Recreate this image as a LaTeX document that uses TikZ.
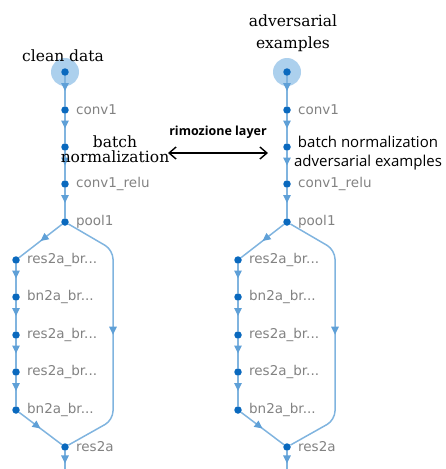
\documentclass[tikz,border=0pt]{standalone}
\usepackage{fontspec}
\newfontfamily\serifdj{DejaVu Serif}
\newfontfamily\opensans{Open Sans}
\newfontfamily\layerfont{DejaVu Sans}
\usetikzlibrary{arrows.meta,decorations.markings}

\definecolor{edgeblue}{RGB}{128,180,223}
\definecolor{tipblue}{RGB}{95,160,215}
\definecolor{dotblue}{RGB}{10,105,190}
\definecolor{haloblue}{RGB}{172,208,237}
\definecolor{lblgray}{RGB}{130,130,130}

\begin{document}
\begin{tikzpicture}
	[x=1pt,y=-1pt,
	 dot/.style={circle, fill=dotblue, inner sep=0pt, minimum size=7.5pt},
	 halo/.style={circle, fill=haloblue, inner sep=0pt, minimum size=28pt},
	 lbl/.style={text=lblgray, font=\layerfont\fontsize{13.5}{15}\selectfont, inner sep=0pt},
	 flow/.style={draw=edgeblue, line width=1.5pt, postaction={decorate},
		decoration={markings, mark=at position 0.5 with {\arrow[tipblue]{Triangle[width=7.5pt,length=8pt]}}}},
	 serifbig/.style={font=\serifdj\fontsize{15.5}{22}\selectfont, align=center, inner sep=0pt},
	 sansbig/.style={font=\opensans\fontsize{15}{19}\selectfont, align=center, inner sep=0pt},
	 swap/.style={draw=black, line width=1.4pt, {Straight Barb[length=7pt,width=12pt]}-{Straight Barb[length=7pt,width=12pt]}}]
	\useasboundingbox (0,0) rectangle (445,469);

	% the two copies of the network
	\foreach \c/\x in {l/65, r/287} {
		\node[halo] (\c-in) at (\x,72) {};
		\node[dot] (\c-indot) at (\x,72) {};
		\node[dot, label={[lbl, label distance=7pt]right:conv1}] (\c-conv1) at (\x,110) {};
		\node[dot] (\c-bn) at (\x,147) {};
		\node[dot, label={[lbl, label distance=7pt]right:conv1\_relu}] (\c-relu) at (\x,184) {};
		\node[dot, label={[lbl, label distance=7pt]right:pool1}] (\c-pool) at (\x,222) {};
		\node[dot, label={[lbl, label distance=7pt]right:res2a\_br...}] (\c-b1) at (\x-49,260) {};
		\node[dot, label={[lbl, label distance=7pt]right:bn2a\_br...}] (\c-b2) at (\x-49,297) {};
		\node[dot, label={[lbl, label distance=7pt]right:res2a\_br...}] (\c-b3) at (\x-49,335) {};
		\node[dot, label={[lbl, label distance=7pt]right:res2a\_br...}] (\c-b4) at (\x-49,372) {};
		\node[dot, label={[lbl, label distance=7pt]right:bn2a\_br...}] (\c-b5) at (\x-49,410) {};
		\node[dot, label={[lbl, label distance=7pt]right:res2a}] (\c-res) at (\x,447) {};
		\coordinate (\c-ne) at (\x+48,250);
		\coordinate (\c-se) at (\x+48,420);
		\coordinate (\c-out) at (\x,476);

		\foreach \a/\b in {indot/conv1, conv1/bn, bn/relu, relu/pool, pool/b1, b1/b2, b2/b3, b3/b4, b4/b5, b5/res, res/out}
			\draw[flow] (\c-\a) -- (\c-\b);
		\draw[flow, rounded corners=9pt] (\c-pool) -- (\c-ne) -- (\c-se) -- (\c-res);
	}

	% texts
	\node[serifbig] (cleantxt) at (63,56) {clean data};
	\node[serifbig] (advtxt) at (293,33) {adversarial\\examples};
	\node[serifbig, font=\serifdj\fontsize{15.5}{15}\selectfont] (lbntxt) at (115,149) {batch\\normalization};
	\node[sansbig] (rbntxt) at (368,153) {batch normalization\\adversarial examples};

	\coordinate (rmL) at (168,153);
	\coordinate (rmR) at (268,153);
	\draw[swap] (rmL) -- node[midway, above=14pt, inner sep=0pt, font=\opensans\bfseries\fontsize{12.5}{14}\selectfont] {rimozione layer} (rmR);
\end{tikzpicture}
\end{document}
